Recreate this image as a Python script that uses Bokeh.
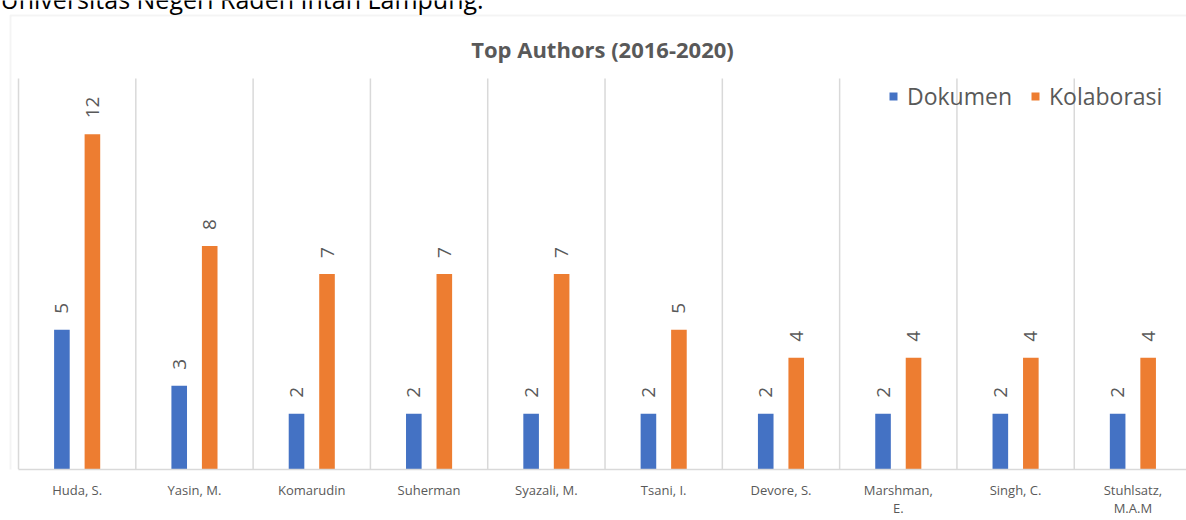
import numpy as np
from bokeh.plotting import figure
from bokeh.models import (ColumnDataSource, Range1d, FixedTicker, Legend, LegendItem,
                          Label, BoxAnnotation)
from bokeh.transform import dodge
from bokeh.core.properties import value
from bokeh.embed import file_html
from bokeh.resources import INLINE

# ---- data ----
authors = ["Huda, S.", "Yasin, M.", "Komarudin", "Suherman", "Syazali, M.",
           "Tsani, I.", "Devore, S.", "Marshman, E.", "Singh, C.", "Stuhlsatz, M.A.M"]
tick_labels = ["Huda, S.", "Yasin, M.", "Komarudin", "Suherman", "Syazali, M.",
               "Tsani, I.", "Devore, S.", "Marshman,\nE.", "Singh, C.", "Stuhlsatz,\nM.A.M"]
dokumen = [5, 3, 2, 2, 2, 2, 2, 2, 2, 2]
kolaborasi = [12, 8, 7, 7, 7, 5, 4, 4, 4, 4]
series_names = ["Dokumen", "Kolaborasi"]
title_text = "Top Authors (2016-2020)"
header_text = "Universitas Negeri Raden Intan Lampung."
y_max = 14

BLUE = "#4472C4"
ORANGE = "#ED7D31"
GRAY = "#595959"
GRID = "#D9D9D9"
FONT = "Open Sans"

n = len(authors)
xs = np.arange(n) + 0.5
src = ColumnDataSource(dict(
    x=xs,
    dok=dokumen,
    kol=kolaborasi,
    dok_t=[str(v) for v in dokumen],
    kol_t=[str(v) for v in kolaborasi],
))
grid_src = ColumnDataSource(dict(gx=np.arange(n + 1), y0=[0] * (n + 1), y1=[y_max] * (n + 1)))

# frame covers the top of the canvas so that header/box/title can be drawn in it
p = figure(frame_width=1186, frame_height=469, output_backend="svg", toolbar_location=None,
           x_range=Range1d(-0.1535, 9.957), y_range=Range1d(0, 16.79),
           min_border_left=0, min_border_right=0, min_border_top=0, min_border_bottom=51)

p.outline_line_color = None
p.background_fill_color = "white"
p.border_fill_color = "white"

# category separators (vertical grid lines)
p.segment(x0="gx", y0="y0", x1="gx", y1="y1", source=grid_src,
          line_color=GRID, line_width=1.5)

bw = 0.133
off = 0.13
r1 = p.vbar(x=dodge("x", -off), top="dok", width=bw, source=src, color=BLUE, line_color=None)
r2 = p.vbar(x=dodge("x", off), top="kol", width=bw, source=src, color=ORANGE, line_color=None)

common = dict(angle=np.pi / 2, text_align="left", text_baseline="middle",
              text_font_size="19px", text_color=GRAY, y_offset=-16)
p.text(x=dodge("x", -off), y="dok", text="dok_t", source=src, text_font=value(FONT), **common)
p.text(x=dodge("x", off), y="kol", text="kol_t", source=src, text_font=value(FONT), **common)

# axes
p.yaxis.visible = False
p.xgrid.grid_line_color = None
p.ygrid.grid_line_color = None
p.xaxis.bounds = (0, n)
p.xaxis.ticker = FixedTicker(ticks=list(xs))
p.xaxis.major_label_overrides = {float(x): lab for x, lab in zip(xs, tick_labels)}
p.xaxis.major_tick_line_color = None
p.xaxis.minor_tick_line_color = None
p.xaxis.axis_line_color = GRID
p.xaxis.axis_line_width = 1.5
p.xaxis.major_label_text_font = FONT
p.xaxis.major_label_text_font_size = "13px"
p.xaxis.major_label_text_color = GRAY
p.xaxis.major_label_text_line_height = 1.0
p.xaxis.major_label_standoff = 5

legend = Legend(items=[LegendItem(label=series_names[0], renderers=[r1]),
                       LegendItem(label=series_names[1], renderers=[r2])],
                orientation="horizontal", location=(888, 357),
                border_line_color=None, background_fill_alpha=0,
                label_text_font=FONT, label_text_font_size="23px", label_text_color=GRAY,
                glyph_width=10, glyph_height=10, label_standoff=9, spacing=18,
                padding=0, margin=0)
p.add_layout(legend, "center")

box = BoxAnnotation(left=10, right=3000, top=15, bottom=3000,
                    left_units="canvas", right_units="canvas",
                    top_units="canvas", bottom_units="canvas",
                    fill_alpha=0, line_color=GRID, line_width=2, level="underlay")
p.add_layout(box)

title = Label(x=602, y=48, x_units="canvas", y_units="canvas", text=title_text,
              text_font=FONT, text_font_size="22px", text_font_style="bold",
              text_color=GRAY, text_align="center", text_baseline="alphabetic")
p.add_layout(title)

hdr = Label(x=0, y=-2, x_units="canvas", y_units="canvas", text=header_text,
            text_font=FONT, text_font_size="25px", text_color="black",
            text_baseline="alphabetic", text_align="left")
p.add_layout(hdr)

open("out.html", "w").write(file_html(p, INLINE))
